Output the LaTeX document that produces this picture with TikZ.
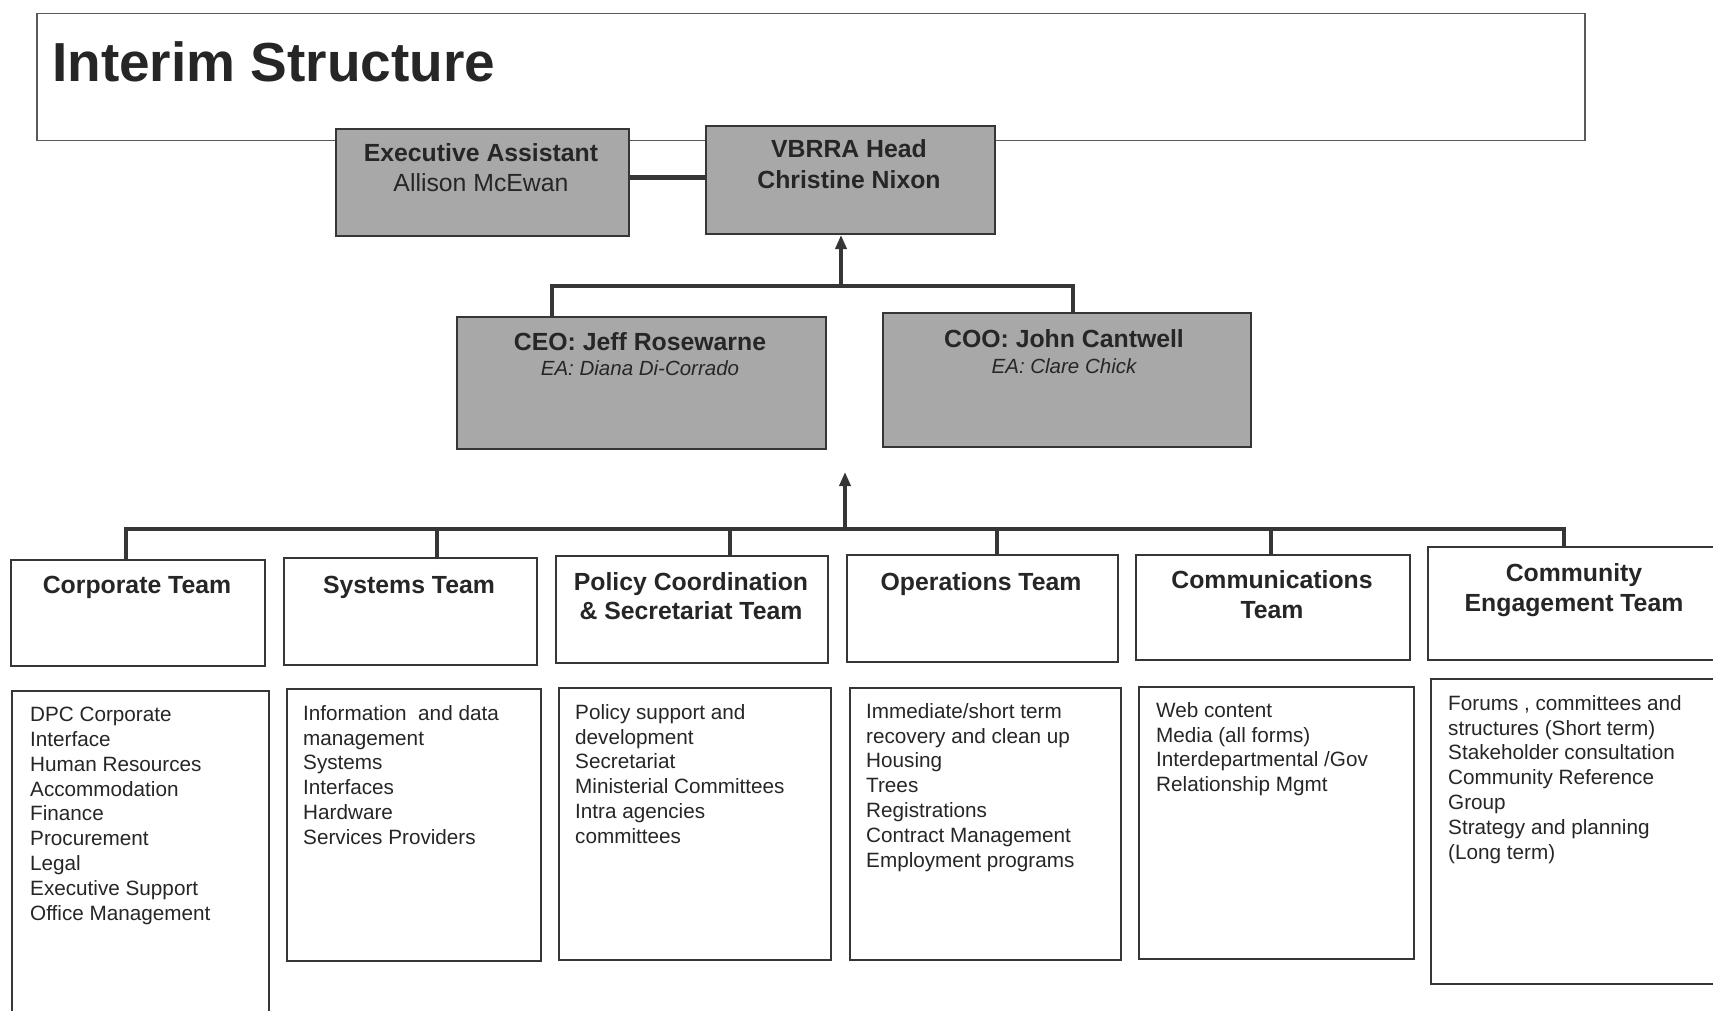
\documentclass[tikz,border=0pt]{standalone}
\usepackage{fontspec}
\setmainfont{Liberation Sans}
\usetikzlibrary{arrows.meta}
\definecolor{ink}{HTML}{262626}
\definecolor{boxfill}{HTML}{A8A8A8}
\definecolor{edge}{HTML}{363636}
\definecolor{frame}{HTML}{5A5A5A}
\begin{document}
\begin{tikzpicture}[x=1pt,y=-1pt,
  gbox/.style={draw=edge, line width=2pt, fill=boxfill, inner sep=0pt, anchor=north west},
  wbox/.style={draw=edge, line width=1.8pt, fill=white, inner sep=0pt, anchor=north west},
  conn/.style={draw=edge, line width=3.5pt},
  upa/.style={conn, -{Triangle[width=11pt,length=14pt]}},
  bold/.style={text=ink, anchor=base, inner sep=0pt, font=\bfseries\fontsize{24.8}{30}\selectfont},
  plain/.style={text=ink, anchor=base, inner sep=0pt, font=\fontsize{24.8}{30}\selectfont},
  ital/.style={text=ink, anchor=base, inner sep=0pt, font=\itshape\fontsize{20.5}{25}\selectfont},
  list/.style={text=ink, anchor=north west, inner sep=0pt, align=left, font=\fontsize{20.7}{24.8}\selectfont}]
\useasboundingbox (0,0) rectangle (1713,1011);
\clip (0,0) rectangle (1713,1011);
\fill[white] (0,0) rectangle (1713,1011);

% title
\node[draw=frame, line width=1.5pt, anchor=north west, minimum width=1548pt, minimum height=127pt, inner sep=0pt] (titlebox) at (36,13) {};
\node[text=ink, anchor=base west, inner sep=0pt, font=\bfseries\fontsize{55}{60}\selectfont] (title) at (52,82) {Interim Structure};

% top boxes
\node[gbox, minimum width=293pt, minimum height=107pt] (ea) at (335,128) {};
\node[gbox, minimum width=289pt, minimum height=108pt] (head) at (705,125) {};
\node[bold] (eat1) at (481,162) {Executive Assistant};
\node[plain] (eat2) at (481,192) {Allison McEwan};
\node[bold] (ht1) at (849,158) {VBRRA Head};
\node[bold] (ht2) at (849,189) {Christine Nixon};
\draw[edge, line width=5pt] (ea.east |- 0,178) -- (head.west |- 0,178);

\node[gbox, minimum width=369pt, minimum height=132pt] (ceo) at (456,316) {};
\node[gbox, minimum width=368pt, minimum height=134pt] (coo) at (882,312) {};
\node[bold] (ceot1) at (640,350) {CEO: Jeff Rosewarne};
\node[ital] (ceot2) at (640,375) {EA: Diana Di-Corrado};
\node[bold] (coot1) at (1064,347) {COO: John Cantwell};
\node[ital] (coot2) at (1064,373) {EA: Clare Chick};

\coordinate (busA) at (841,286);
\coordinate (busAL) at (552,286);
\coordinate (busAR) at (1073,286);
\draw[conn] (busAL |- ceo.north) -- (busAL) -- (busAR) -- (busAR |- coo.north);
\draw[upa] (busA) -- (busA |- head.south);

% team header boxes
\node[wbox, minimum width=254pt, minimum height=106pt] (t1) at (10,559) {};
\node[wbox, minimum width=253pt, minimum height=107pt] (t2) at (283,557) {};
\node[wbox, minimum width=272pt, minimum height=107pt] (t3) at (555,555) {};
\node[wbox, minimum width=271pt, minimum height=107pt] (t4) at (846,554) {};
\node[wbox, minimum width=274pt, minimum height=105pt] (t5) at (1135,554) {};
\node[wbox, minimum width=294pt, minimum height=113pt] (t6) at (1427,546) {};

\node[bold] at (137,593) {Corporate Team};
\node[bold] at (409,593) {Systems Team};
\node[bold] at (691,590) {Policy Coordination};
\node[bold] at (691,619) {\& Secretariat Team};
\node[bold] at (981,590) {Operations Team};
\node[bold] at (1272,588) {Communications};
\node[bold] at (1272,618) {Team};
\node[bold] at (1574,581) {Community};
\node[bold] at (1574,611) {Engagement Team};

% bottom bus
\coordinate (busB) at (845,529);
\coordinate (b1) at (126,529);
\coordinate (b2) at (437,529);
\coordinate (b3) at (730,529);
\coordinate (b4) at (997,529);
\coordinate (b5) at (1271,529);
\coordinate (b6) at (1564,529);
\coordinate (tipB) at (845,472);
\draw[conn] (b1 |- t1.north) -- (b1) -- (b6) -- (b6 |- t6.north);
\draw[conn] (b2) -- (b2 |- t2.north);
\draw[conn] (b3) -- (b3 |- t3.north);
\draw[conn] (b4) -- (b4 |- t4.north);
\draw[conn] (b5) -- (b5 |- t5.north);
\draw[upa] (busB) -- (tipB);

% detail boxes
\node[wbox, minimum width=257pt, minimum height=400pt] (d1) at (11,690) {};
\node[wbox, minimum width=254pt, minimum height=272pt] (d2) at (286,688) {};
\node[wbox, minimum width=272pt, minimum height=272pt] (d3) at (558,687) {};
\node[wbox, minimum width=271pt, minimum height=272pt] (d4) at (849,687) {};
\node[wbox, minimum width=275pt, minimum height=272pt] (d5) at (1138,686) {};
\node[wbox, minimum width=300pt, minimum height=305pt] (d6) at (1430,678) {};

\node[list] (l1) at (30,707) {DPC Corporate\\Interface\\Human Resources\\Accommodation\\Finance\\Procurement\\Legal\\Executive Support\\Office Management};
\node[list] (l2) at (303,705) {Information\ \ and data\\management\\Systems\\Interfaces\\Hardware\\Services Providers};
\node[list] (l3) at (575,704) {Policy support and\\development\\Secretariat\\Ministerial Committees\\Intra agencies\\committees};
\node[list] (l4) at (866,703) {Immediate/short term\\recovery and clean up\\Housing\\Trees\\Registrations\\Contract Management\\Employment programs};
\node[list] (l5) at (1156,702) {Web content\\Media (all forms)\\Interdepartmental /Gov\\Relationship Mgmt};
\node[list] (l6) at (1448,695) {Forums , committees and\\structures (Short term)\\Stakeholder consultation\\Community Reference\\Group\\Strategy and planning\\(Long term)};
\end{tikzpicture}
\end{document}
